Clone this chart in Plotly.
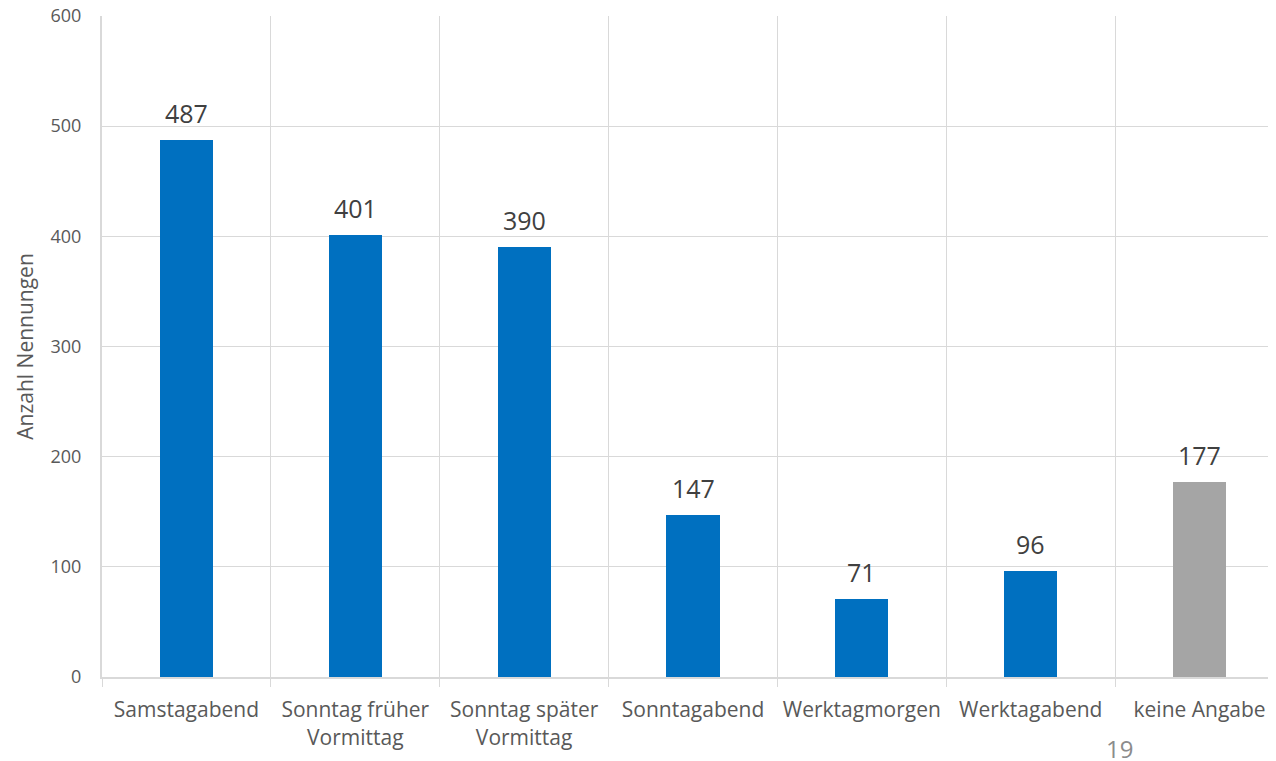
import plotly.graph_objects as go

categories = ["Samstagabend", "Sonntag früher<br>Vormittag", "Sonntag später<br>Vormittag",
              "Sonntagabend", "Werktagmorgen", "Werktagabend", "keine Angabe"]
values = [487, 401, 390, 147, 71, 96, 177]
colors = ["#0070C0"] * 6 + ["#A5A5A5"]
y_ticks = [0, 100, 200, 300, 400, 500, 600]

FONT = "Open Sans"
OFF = 8  # page body margin
W, H = 1276, 761
L, R, T = 102 - OFF, 0, 16 - OFF
B = H - (677 - OFF)

fig = go.Figure()
fig.add_trace(go.Bar(
    x=categories, y=values, marker=dict(color=colors, line=dict(width=0)),
    width=0.314, hoverinfo="skip",
))

for c, v in zip(categories, values):
    fig.add_annotation(x=c, y=v, text=str(v), showarrow=False, yanchor="bottom",
                       yshift=8, font=dict(family=FONT, size=25, color="#404040"))

pw, ph = W - L - R, H - T - B
fig.add_annotation(x=(1119 - OFF - L) / pw, y=((H - B) - (748 - OFF)) / ph,
                   xref="paper", yref="paper", text="19", showarrow=False,
                   xanchor="center", yanchor="middle",
                   font=dict(family=FONT, size=24, color="#8C8C8C"))

fig.update_layout(
    width=W, height=H,
    margin=dict(l=L, r=R, t=T, b=B, autoexpand=False),
    plot_bgcolor="white", paper_bgcolor="white",
    showlegend=False,
    font=dict(family=FONT, color="#595959"),
    bargap=0,
)

fig.update_xaxes(
    range=[-0.5, 6.5], tickson="boundaries", showgrid=True, automargin=False,
    gridcolor="#D9D9D9", gridwidth=1, ticks="outside", ticklen=8, tickcolor="#D9D9D9",
    showline=True, linecolor="#D9D9D9", linewidth=2, ticklabelstandoff=13,
    tickfont=dict(family=FONT, size=21, color="#595959"), fixedrange=True,
)
fig.update_yaxes(
    range=[0, 600], tickvals=y_ticks, showgrid=True, gridcolor="#D9D9D9", gridwidth=1,
    zeroline=False, showline=True, linecolor="#D9D9D9", linewidth=2, automargin=False,
    tickfont=dict(family=FONT, size=18, color="#595959"), ticklabelstandoff=15,
    ticklabeloverflow="allow",
    title=dict(text="Anzahl Nennungen", font=dict(family=FONT, size=21, color="#595959"), standoff=11),
)

fig.write_html("out.html")
